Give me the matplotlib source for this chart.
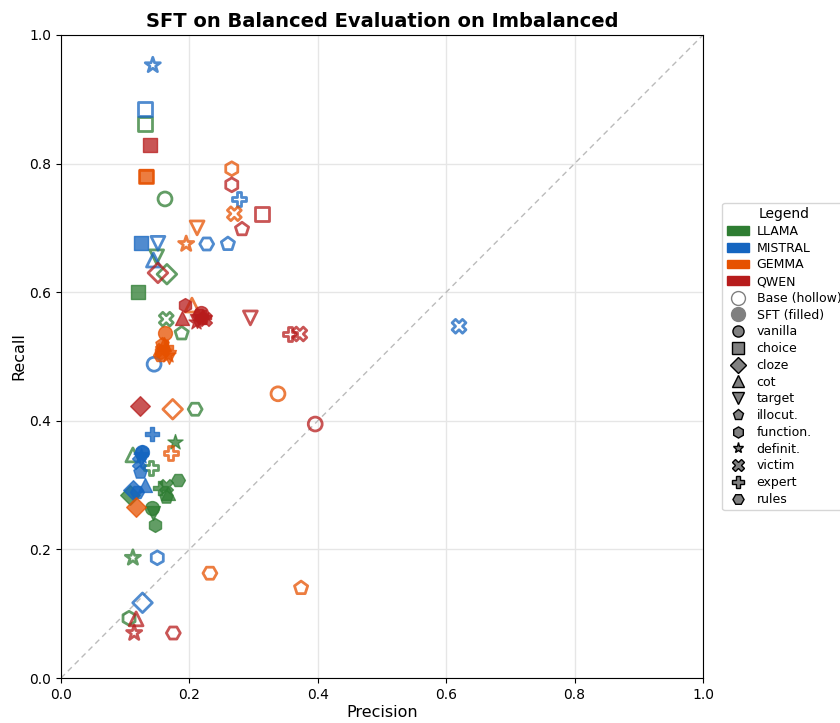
import matplotlib
matplotlib.use("Agg")
import matplotlib.pyplot as plt
from matplotlib.patches import Patch
from matplotlib.lines import Line2D

models = ["LLAMA", "MISTRAL", "GEMMA", "QWEN"]
model_colors = ["#2e7d32", "#1565c0", "#e65100", "#b71c1c"]

prompts = ["vanilla", "choice", "cloze", "cot", "target", "illocut.",
           "function.", "definit.", "victim", "expert", "rules"]
prompt_markers = ["o", "s", "D", "^", "v", "p", "h", "*", "X", "P", "H"]

# Base models (hollow markers), values in prompt order
llama_base_p = [0.162, 0.131, 0.165, 0.112, 0.149, 0.188, 0.106, 0.112, 0.164, 0.140, 0.209]
llama_base_r = [0.745, 0.862, 0.628, 0.347, 0.655, 0.536, 0.093, 0.187, 0.558, 0.327, 0.418]
mistral_base_p = [0.145, 0.131, 0.127, 0.144, 0.151, 0.260, 0.150, 0.143, 0.620, 0.277, 0.227]
mistral_base_r = [0.488, 0.885, 0.117, 0.650, 0.676, 0.675, 0.187, 0.953, 0.547, 0.745, 0.675]
gemma_base_p = [0.338, 0.132, 0.174, 0.204, 0.212, 0.374, 0.266, 0.195, 0.270, 0.171, 0.232]
gemma_base_r = [0.442, 0.780, 0.418, 0.580, 0.700, 0.140, 0.792, 0.675, 0.722, 0.350, 0.163]
qwen_base_p = [0.396, 0.313, 0.151, 0.117, 0.295, 0.282, 0.266, 0.114, 0.372, 0.357, 0.175]
qwen_base_r = [0.395, 0.722, 0.630, 0.092, 0.560, 0.698, 0.767, 0.070, 0.535, 0.535, 0.070]

# Fine-tuned models (filled markers), values in prompt order
llama_sft_p = [0.141, 0.120, 0.107, 0.166, 0.144, 0.163, 0.146, 0.178, 0.164, 0.154, 0.182]
llama_sft_r = [0.264, 0.600, 0.284, 0.288, 0.256, 0.282, 0.238, 0.367, 0.299, 0.295, 0.308]
mistral_sft_p = [0.126, 0.124, 0.112, 0.131, 0.125, 0.123, 0.126, 0.124, 0.122, 0.142, 0.118]
mistral_sft_r = [0.352, 0.676, 0.292, 0.300, 0.340, 0.320, 0.352, 0.345, 0.336, 0.379, 0.290]
gemma_sft_p = [0.162, 0.133, 0.117, 0.160, 0.168, 0.157, 0.156, 0.167, 0.158, 0.163, 0.155]
gemma_sft_r = [0.536, 0.780, 0.266, 0.520, 0.500, 0.520, 0.507, 0.502, 0.510, 0.515, 0.503]
qwen_sft_p = [0.218, 0.139, 0.123, 0.188, 0.212, 0.220, 0.193, 0.210, 0.225, 0.222, 0.215]
qwen_sft_r = [0.568, 0.829, 0.423, 0.560, 0.555, 0.560, 0.580, 0.553, 0.558, 0.562, 0.565]

base_p = [llama_base_p, mistral_base_p, gemma_base_p, qwen_base_p]
base_r = [llama_base_r, mistral_base_r, gemma_base_r, qwen_base_r]
sft_p = [llama_sft_p, mistral_sft_p, gemma_sft_p, qwen_sft_p]
sft_r = [llama_sft_r, mistral_sft_r, gemma_sft_r, qwen_sft_r]

fig = plt.figure(figsize=(8.4, 7.23), dpi=100)
ax = fig.add_axes([0.0726, 0.0622, 0.7643, 0.8894])

ax.plot([0, 1], [0, 1], linestyle=(0, (4, 3)), color="#bbbbbb", linewidth=1, zorder=1)

for mi, color in enumerate(model_colors):
    for pi, mk in enumerate(prompt_markers):
        size = 130 if mk == "*" else 100
        ax.scatter(base_p[mi][pi], base_r[mi][pi], marker=mk, s=size,
                   facecolors="none", edgecolors=color, linewidths=2,
                   alpha=0.75, zorder=3)
        ax.scatter(sft_p[mi][pi], sft_r[mi][pi], marker=mk, s=size,
                   facecolors=color, edgecolors=color, linewidths=1,
                   alpha=0.75, zorder=3)

ax.set_xlim(0, 1)
ax.set_ylim(0, 1)
ax.set_xticks([0, 0.2, 0.4, 0.6, 0.8, 1.0])
ax.set_yticks([0, 0.2, 0.4, 0.6, 0.8, 1.0])
ax.grid(True, color="#e6e6e6", linewidth=1)
ax.set_axisbelow(True)
ax.set_xlabel("Precision", fontsize=11.5, labelpad=2)
ax.set_ylabel("Recall", fontsize=11.5, labelpad=2)
ax.set_title("SFT on Balanced Evaluation on Imbalanced", fontsize=14, fontweight="bold")

handles = [Patch(facecolor=c, edgecolor=c, label=m) for m, c in zip(models, model_colors)]
handles.append(Line2D([], [], marker="o", linestyle="none", markersize=10,
                      markerfacecolor="none", markeredgecolor="gray", label="Base (hollow)"))
handles.append(Line2D([], [], marker="o", linestyle="none", markersize=10,
                      markerfacecolor="gray", markeredgecolor="gray", label="SFT (filled)"))
for name, mk in zip(prompts, prompt_markers):
    handles.append(Line2D([], [], marker=mk, linestyle="none", markersize=8,
                          markerfacecolor="gray", markeredgecolor="black",
                          label=name))
ax.legend(handles=handles, title="Legend", loc="center left",
          bbox_to_anchor=(1.03, 0.5), fontsize=9, title_fontsize=10,
          handlelength=1.8, handletextpad=0.6, labelspacing=0.3,
          borderaxespad=0, borderpad=0.35)

fig.savefig("out.png", dpi=100)
